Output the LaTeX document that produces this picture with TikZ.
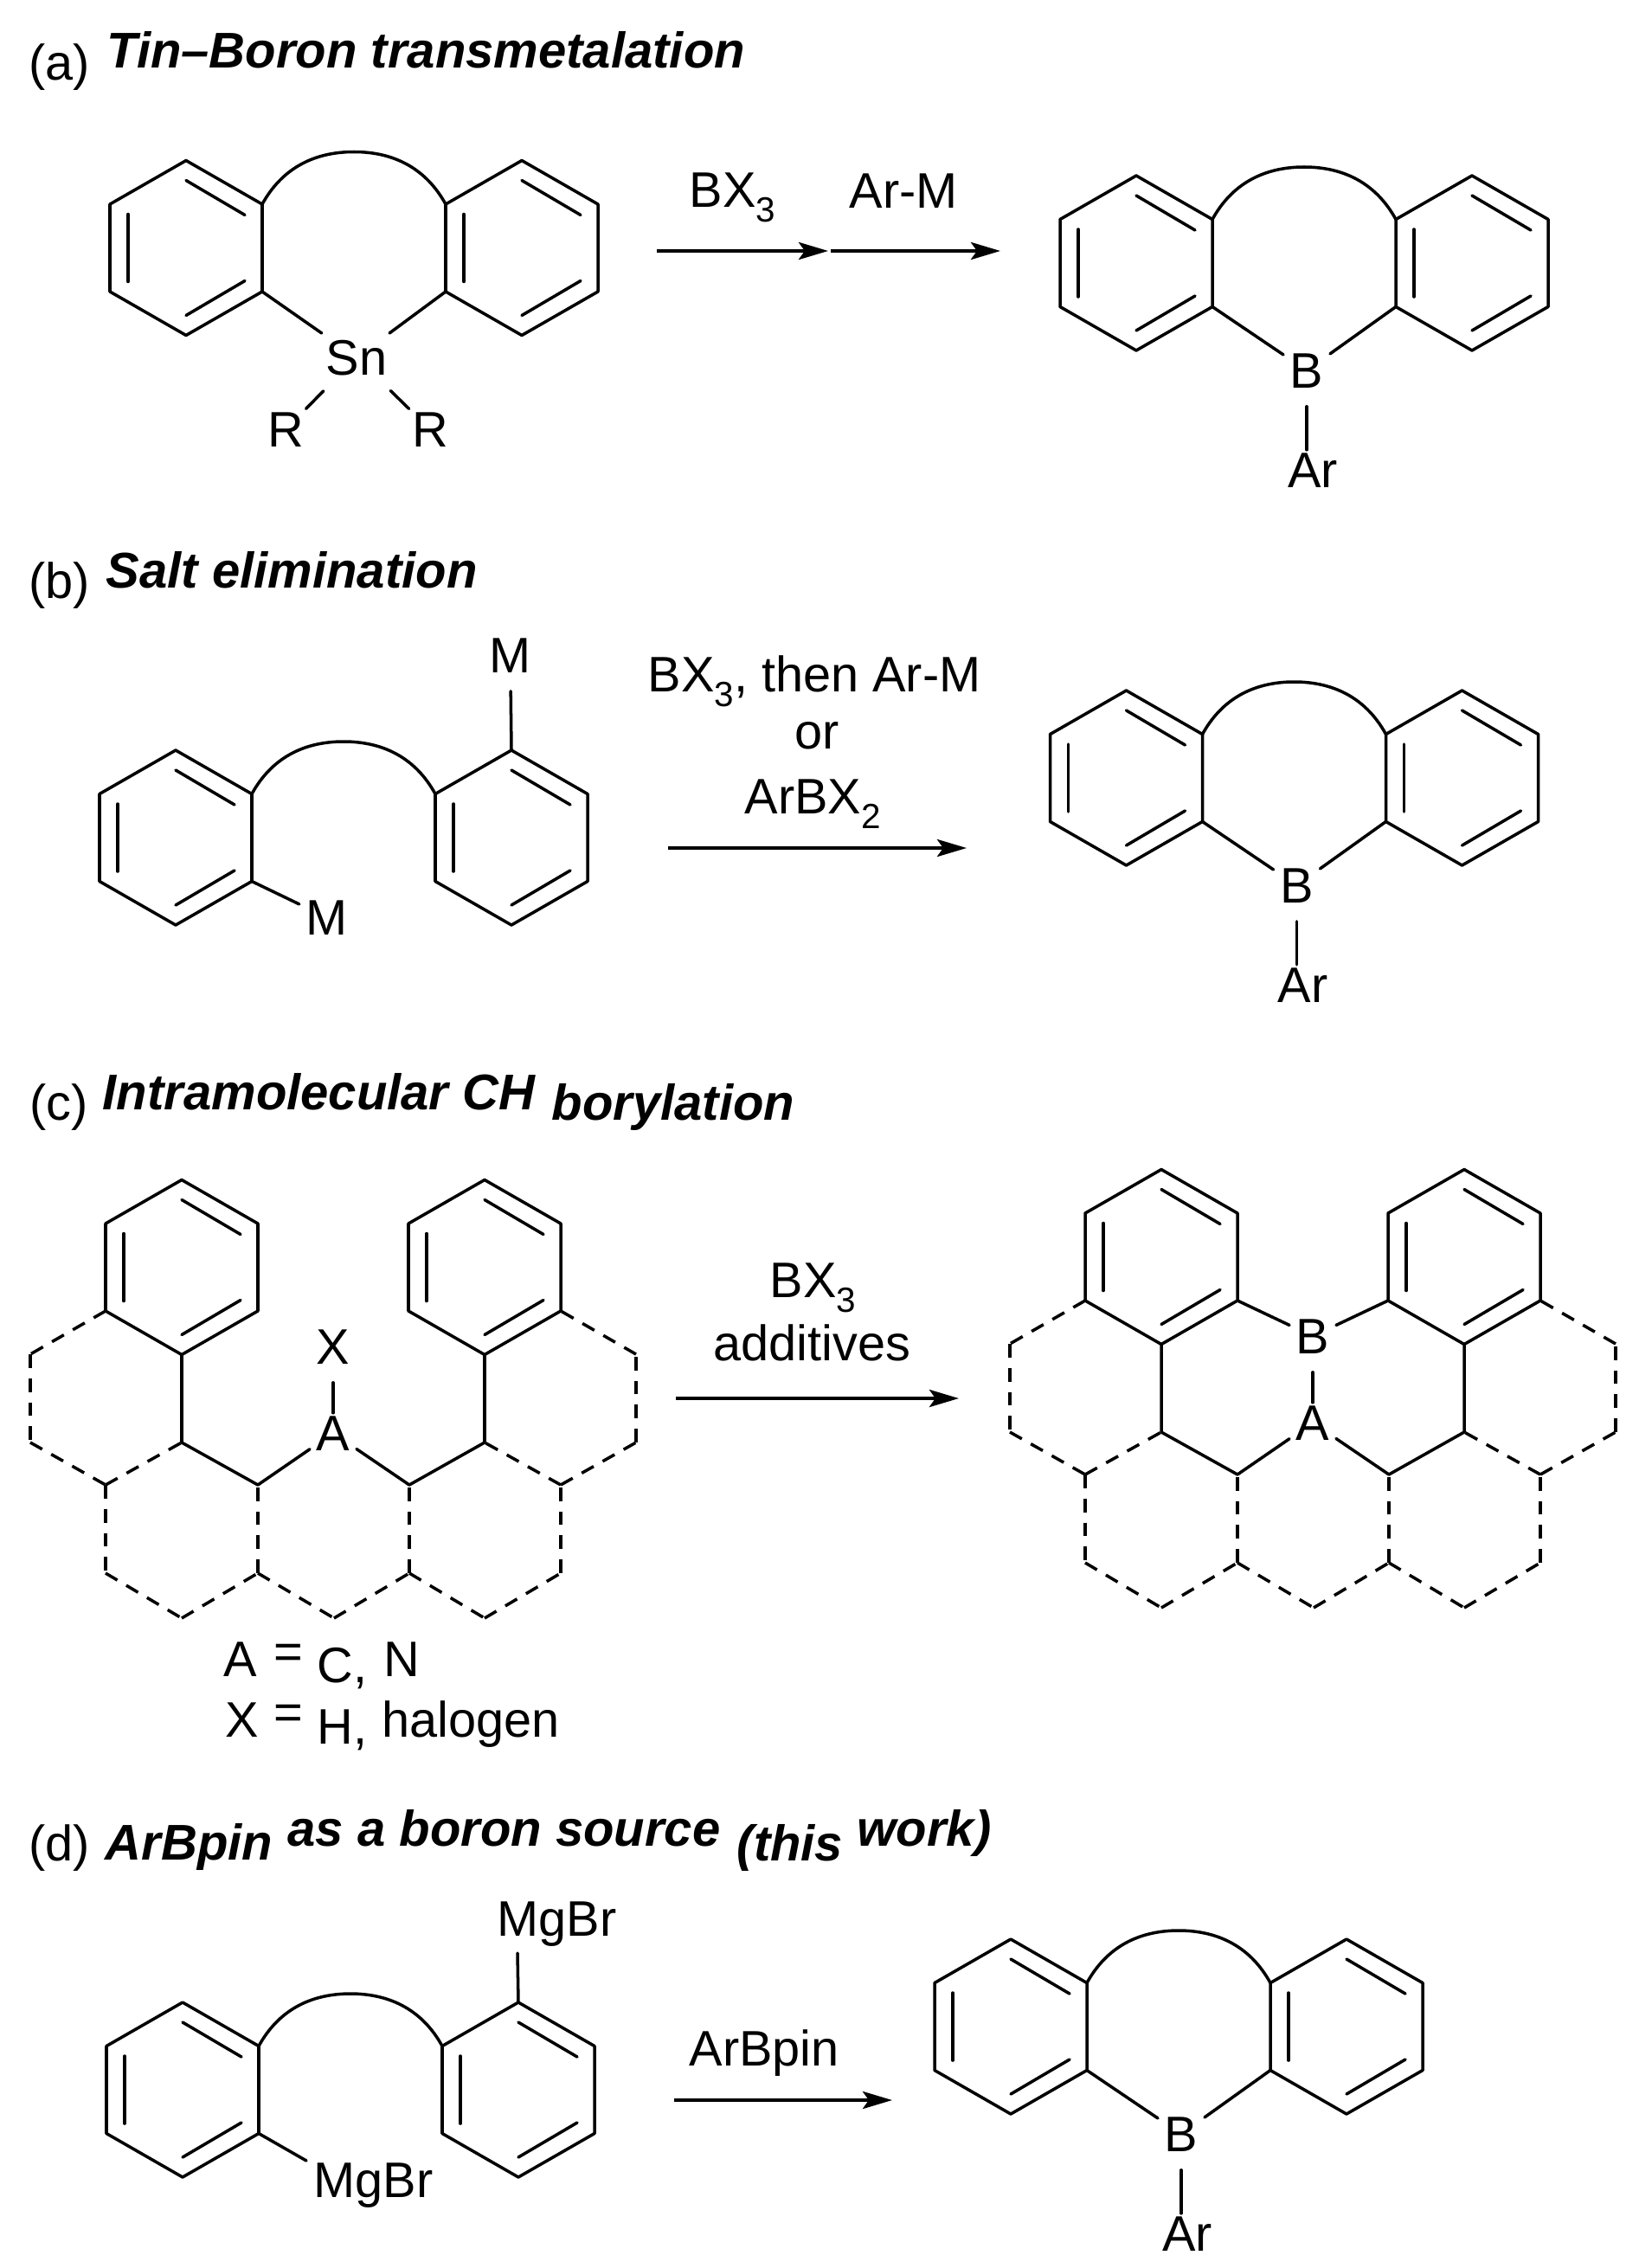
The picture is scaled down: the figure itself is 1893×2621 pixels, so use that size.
\documentclass[tikz,border=0pt]{standalone}
\usepackage{fontspec}
\setmainfont{Liberation Sans}
\usetikzlibrary{arrows.meta,calc}
\tikzset{
	bond/.style={black, line width=1pt, line cap=round, line join=round},
	gapbond/.style={bond, shorten <=4pt, shorten >=-1.2pt},
	dashbond/.style={bond, line cap=butt, dash pattern=on 4.5pt off 3.4pt},
	rxnarrow/.style={black, line width=1.2pt, -{Stealth[length=0.34cm, width=0.2cm, inset=0.07cm]}},
	chem/.style={anchor=base west, inner sep=0pt, font=\fontsize{16.4}{18}\selectfont},
	atom/.style={anchor=base, inner sep=2pt, font=\fontsize{16.4}{18}\selectfont},
	heading/.style={anchor=base west, inner sep=0pt, font=\fontsize{16.5}{18}\selectfont\bfseries\itshape}
}
\newcommand{\lownum}[1]{\raisebox{-5pt}{\fontsize{11.5}{12}\selectfont #1}}
% one benzene ring: name, centre x, centre y
\newcommand{\benzring}[3]{
	\begin{scope}[shift={(#2,#3)}]
		\coordinate (#1t) at (0,-101);
		\coordinate (#1ur) at (88,-50.5);
		\coordinate (#1lr) at (88,50.5);
		\coordinate (#1b) at (0,101);
		\coordinate (#1ll) at (-88,50.5);
		\coordinate (#1ul) at (-88,-50.5);
		\draw[bond] (#1t)--(#1ur)--(#1lr)--(#1b)--(#1ll)--(#1ul)--cycle;
		\draw[bond] (0,-78)--(68,-38);
		\draw[bond] (-67,-39)--(-67,39);
		\draw[bond] (0,78)--(68,38);
	\end{scope}
}
% two rings joined by the arc: name, mid x, centre y
\newcommand{\ringpair}[3]{
	\benzring{#1L}{#2-194}{#3}
	\benzring{#1R}{#2+194}{#3}
	\coordinate (#1top) at (#2,#3-111);
	\draw[bond] (#1Lur) .. controls ($(#1Lur)+(22,-40)$) and ($(#1top)+(-48,0)$) .. (#1top)
		.. controls ($(#1top)+(48,0)$) and ($(#1Rul)+(-22,-40)$) .. (#1Rul);
}
% ring pair closed by B-Ar: name, mid x, centre y
\newcommand{\borolering}[3]{
	\ringpair{#1}{#2}{#3}
	\node[atom] (#1B) at (#2+3,#3+144){B};
	\node[atom] (#1Ar) at (#2+10,#3+259){Ar};
	\draw[bond] (#1Llr)--(#1B);
	\draw[bond] (#1Rll)--(#1B);
	\draw[gapbond] (#1B.south)--(#1B.south |- #1Ar.north);
}
% hexagon frame of part (c): name, shift x, shift y
\newcommand{\hexframe}[3]{
	\begin{scope}[shift={(#2,#3)}]
		\benzring{#1L}{210}{1464.5}
		\benzring{#1R}{560}{1464.5}
		\coordinate (#1a) at (35,1565);
		\coordinate (#1c) at (35,1667);
		\coordinate (#1d) at (122,1716);
		\coordinate (#1e) at (210,1667);
		\coordinate (#1f) at (298,1716);
		\coordinate (#1g) at (473,1716);
		\coordinate (#1h) at (560,1667);
		\coordinate (#1i) at (648,1716);
		\coordinate (#1j) at (735,1667);
		\coordinate (#1k) at (735,1565);
		\coordinate (#1m) at (122,1818);
		\coordinate (#1n) at (210,1870);
		\coordinate (#1o) at (298,1818);
		\coordinate (#1p) at (386,1870);
		\coordinate (#1q) at (473,1818);
		\coordinate (#1r) at (560,1870);
		\coordinate (#1s) at (648,1818);
		\node[atom] (#1A) at (385,1676){A};
		\foreach \p/\q in {Lll/a,a/c,c/d,d/e,d/m,m/n,n/o,o/f,o/p,p/q,q/g,q/r,r/s,s/i,i/h,i/j,j/k,k/Rlr}{
			\draw[dashbond] (#1\p)--(#1\q);
		}
		\draw[bond] (#1Lb)--(#1e)--(#1f)--(#1A);
		\draw[bond] (#1A)--(#1g)--(#1h)--(#1Rb);
	\end{scope}
}

\begin{document}
\begin{tikzpicture}[x=0.01cm, y=-0.01cm]
\useasboundingbox (0,0) rectangle (1893,2621);
% (a)
\node[chem] (alabel) at (33,92){(a)};
\node[heading] (atitle) at (123,78){Tin–Boron transmetalation};
\ringpair{ar}{409}{286.5}
\node[atom] (aSn) at (412,433){Sn};
\node[atom] (aRa) at (330,516){R};
\node[atom] (aRb) at (497,516){R};
\draw[bond] (arLlr)--(aSn);
\draw[bond] (arRll)--(aSn);
\draw[bond, shorten <=4.2pt, shorten >=-1.5pt] (aSn)--(aRa);
\draw[bond, shorten <=4.2pt, shorten >=-1.5pt] (aSn)--(aRb);
\node[chem] (abx) at (796,239){BX\lownum{3}};
\node[chem] (aarm) at (981,240){Ar-M};
\coordinate (astart) at (759,290);
\coordinate (amid) at (957,290);
\coordinate (amidb) at (960,290);
\coordinate (aend) at (1156,290);
\draw[rxnarrow] (astart)--(amid);
\draw[rxnarrow] (amidb)--(aend);
\borolering{ap}{1507}{304}
% (b)
\node[chem] (blabel) at (33,691){(b)};
\node[heading] (btitle) at (122,679){Salt elimination};
\ringpair{br}{397}{968}
\node[atom] (bMa) at (377.5,1080){M};
\node[atom] (bMb) at (590,777){M};
\draw[bond] (brLlr)--(bMa);
\draw[bond, shorten <=4pt] (bMb.south)--(brRt);
\node[chem] (bbx) at (748,799){BX\lownum{3}, then Ar-M};
\node[atom] (bor) at (944,865){or};
\node[chem] (barb) at (860,940){ArBX\lownum{2}};
\coordinate (bstart) at (772,980);
\coordinate (bend) at (1117,980);
\draw[rxnarrow] (bstart)--(bend);
\borolering{bp}{1495.5}{899}
% (c)
\node[chem] (clabel) at (34,1294){(c)};
\node[heading] (ctitle) at (118,1282){Intramolecular CH};
\node[heading] (ctitleb) at (637,1294){borylation};
\hexframe{cr}{0}{0}
\node[atom] (cX) at (385,1576){X};
\draw[gapbond] (cX.south)--(crA.north);
\node[chem] (cAa) at (258,1937){A};
\node[chem] (ceqa) at (316,1928){=};
\node[chem] (cCc) at (366,1944){C,};
\node[chem] (cNn) at (443,1937){N};
\node[chem] (cXx) at (260,2007){X};
\node[chem] (ceqb) at (316,1998){=};
\node[chem] (cHh) at (366,2015){H,};
\node[chem] (chal) at (441,2007){halogen};
\node[chem] (cbx) at (889,1499){BX\lownum{3}};
\node[chem] (cadd) at (824,1572){additives};
\coordinate (cstart) at (781,1616);
\coordinate (cend) at (1108,1616);
\draw[rxnarrow] (cstart)--(cend);
\hexframe{cp}{1132}{-12}
\node[atom] (cB) at (1517,1564){B};
\draw[bond] (cpLlr)--(cB);
\draw[bond] (cpRll)--(cB);
\draw[gapbond] (cB.south)--(cpA.north);
% (d)
\node[chem] (dlabel) at (33,2150){(d)};
\node[heading] (dtitle) at (121,2149){ArBpin};
\node[heading] (dtitleb) at (332,2133){as a boron source};
\node[heading] (dtitlec) at (851,2150){(this};
\node[heading] (dtitled) at (990,2133){work)};
\ringpair{dr}{405}{2415}
\node[chem] (dMga) at (362,2539){MgBr};
\node[chem] (dMgb) at (574,2237){MgBr};
\coordinate (dMgbot) at (598,2257);
\coordinate (dMgend) at (354,2497);
\draw[bond] (drLlr)--(dMgend);
\draw[bond] (drRt)--(dMgbot);
\node[chem] (dpin) at (796,2387){ArBpin};
\coordinate (dstart) at (779,2427);
\coordinate (dend) at (1031,2427);
\draw[rxnarrow] (dstart)--(dend);
\borolering{dp}{1362}{2342}
\end{tikzpicture}
\end{document}
